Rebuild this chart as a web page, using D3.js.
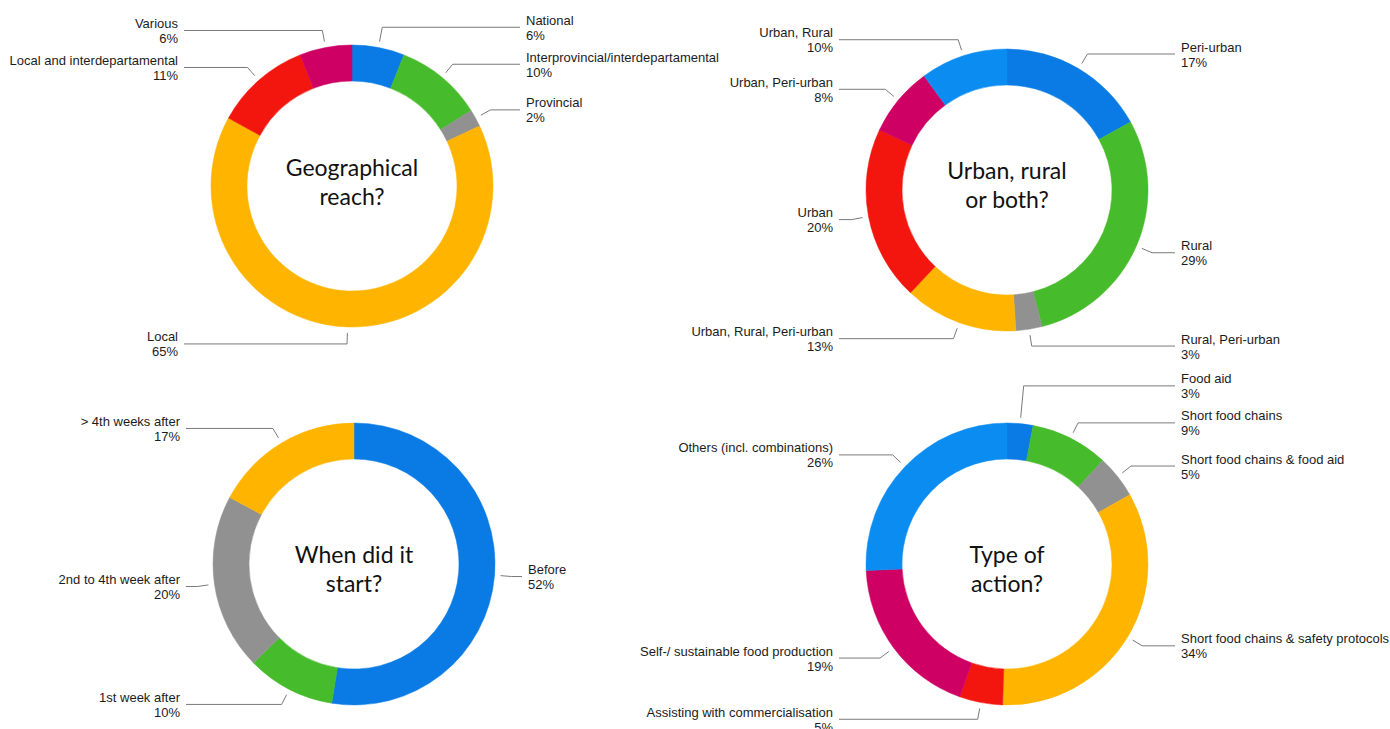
<!DOCTYPE html>
<html><head><meta charset="utf-8">
<script src="https://cdn.jsdelivr.net/npm/d3@7"></script>
<style>
html,body{margin:0;padding:0;background:#fff;}
svg{display:block;}
.lbl{font-family:"Liberation Sans",Arial,Helvetica,sans-serif;font-size:13px;fill:#1c1c1c;}
.ttl{font-family:Lato,"Open Sans",sans-serif;font-size:23px;fill:#111;}
.lead{fill:none;stroke:#7a7a7a;stroke-width:1;}
</style></head><body>
<svg id="c" width="1390" height="729"></svg>
<script>
// ---- data ----
const geoTitle = ["Geographical", "reach?"];
const geoCategories = ["National", "Interprovincial/interdepartamental", "Provincial", "Local", "Local and interdepartamental", "Various"];
const geoValues = [6, 10, 2, 65, 11, 6];

const areaTitle = ["Urban, rural", "or both?"];
const areaCategories = ["Peri-urban", "Rural", "Rural, Peri-urban", "Urban, Rural, Peri-urban", "Urban", "Urban, Peri-urban", "Urban, Rural"];
const areaValues = [17, 29, 3, 13, 20, 8, 10];

const startTitle = ["When did it", "start?"];
const startCategories = ["Before", "1st week after", "2nd to 4th week after", "> 4th weeks after"];
const startValues = [52, 10, 20, 17];

const actionTitle = ["Type of", "action?"];
const actionCategories = ["Food aid", "Short food chains", "Short food chains & food aid", "Short food chains & safety protocols", "Assisting with commercialisation", "Self-/ sustainable food production", "Others (incl. combinations)"];
const actionValues = [3, 9, 5, 34, 5, 19, 26];

// ---- styles ----
const C = {blue:"#0a7be4", lblue:"#0b8cf0", green:"#46bb2b", gray:"#919191", yellow:"#ffb500", red:"#f2160f", magenta:"#cf0064"};
const geoColors = [C.blue, C.green, C.gray, C.yellow, C.red, C.magenta];
const areaColors = [C.blue, C.green, C.gray, C.yellow, C.red, C.magenta, C.lblue];
const startColors = [C.blue, C.green, C.gray, C.yellow];
const actionColors = [C.blue, C.green, C.gray, C.yellow, C.red, C.magenta, C.lblue];

const charts = [
  {title: geoTitle, cats: geoCategories, vals: geoValues, colors: geoColors, cx: 352, cy: 186, tdy: 4},
  {title: areaTitle, cats: areaCategories, vals: areaValues, colors: areaColors, cx: 1007, cy: 190, tdy: 3},
  {title: startTitle, cats: startCategories, vals: startValues, colors: startColors, cx: 354, cy: 564, tdy: 13},
  {title: actionTitle, cats: actionCategories, vals: actionValues, colors: actionColors, cx: 1007, cy: 564, tdy: 13}
];

const R_OUT = 141, R_IN = 105, R_ANCHOR = 147, R_ELBOW = 158, LINE_END = 168, TEXT_X = 174, GAP = 37;

const svg = d3.select("#c");
const arc = d3.arc().innerRadius(R_IN).outerRadius(R_OUT);

charts.forEach(ch => {
  const g = svg.append("g").attr("transform", `translate(${ch.cx},${ch.cy})`);
  const pie = d3.pie().sort(null).value(d => d.v)(ch.vals.map((v, i) => ({v, name: ch.cats[i], color: ch.colors[i]})));

  g.selectAll("path.slice").data(pie).join("path")
    .attr("class", "slice")
    .attr("d", arc)
    .attr("fill", d => d.data.color)
    .attr("stroke", d => d.data.color)
    .attr("stroke-width", 0.5);

  // label layout
  const labs = pie.map(d => {
    const m = (d.startAngle + d.endAngle) / 2;
    const s = Math.sin(m), c = -Math.cos(m);
    return {d, m, s, c, side: s >= 0 ? 1 : -1,
      ax: R_ANCHOR * s, ay: R_ANCHOR * c, ey: R_ELBOW * c, ey0: R_ELBOW * c};
  });
  [1, -1].forEach(side => {
    const sl = labs.filter(l => l.side === side);
    const above = sl.filter(l => l.ey < 0).sort((a, b) => b.ey - a.ey);
    for (let i = 1; i < above.length; i++) above[i].ey = Math.min(above[i].ey, above[i - 1].ey - GAP);
    const below = sl.filter(l => l.ey >= 0).sort((a, b) => a.ey - b.ey);
    for (let i = 1; i < below.length; i++) below[i].ey = Math.max(below[i].ey, below[i - 1].ey + GAP);
  });
  labs.forEach(l => {
    let r = R_ELBOW;
    if (l.ey !== l.ey0 && Math.abs(l.c) > 0.2) r = Math.max(R_ANCHOR + 2, Math.min(220, l.ey / l.c));
    l.ex = r * l.s;
  });

  g.selectAll("path.lead").data(labs).join("path")
    .attr("class", "lead")
    .attr("d", l => d3.line()([[l.ax, l.ay], [l.ex, l.ey], [l.side * LINE_END, l.ey]]));

  const t = g.selectAll("text.lbl").data(labs).join("text")
    .attr("class", "lbl")
    .attr("text-anchor", l => l.side > 0 ? "start" : "end");
  t.append("tspan").attr("x", l => l.side * TEXT_X).attr("y", l => l.ey - 2.5).text(l => l.d.data.name);
  t.append("tspan").attr("x", l => l.side * TEXT_X).attr("y", l => l.ey + 12.5).text(l => l.d.data.v + "%");

  const tt = g.append("text").attr("class", "ttl").attr("text-anchor", "middle");
  ch.title.forEach((line, i) => {
    tt.append("tspan").attr("x", 0).attr("y", ch.tdy - 14.5 + i * 29).text(line);
  });
});
</script>
</body></html>
